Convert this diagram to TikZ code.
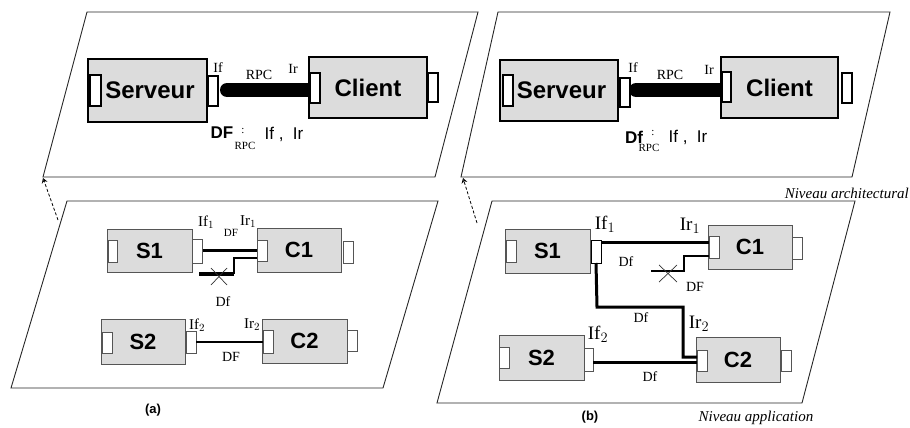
\documentclass[tikz,border=0pt]{standalone}
\usepackage{fontspec}
\setmainfont{Liberation Serif}
\setsansfont{Liberation Sans}
\usetikzlibrary{calc,arrows.meta}
\definecolor{boxgray}{HTML}{DCDCDC}
\definecolor{edgegray}{HTML}{555555}
\tikzset{
  plane/.style={draw=black!85, line width=0.9pt},
  bigbox/.style={draw=black, line width=2.4pt, fill=boxgray, inner sep=0pt, outer sep=0pt,
    font=\sffamily\bfseries\fontsize{24}{24}\selectfont},
  bigport/.style={draw=black, line width=1.8pt, fill=white, inner sep=0pt, outer sep=0pt},
  smallbox/.style={draw=edgegray, line width=1pt, fill=boxgray, inner sep=0pt, outer sep=0pt,
    font=\sffamily\bfseries\fontsize{22}{22}\selectfont},
  smallport/.style={draw=edgegray, line width=1pt, fill=white, inner sep=0pt, outer sep=0pt},
  bar/.style={line width=14pt, line cap=butt},
  barend/.style={fill=black, draw=none},
  link/.style={line width=3pt},
  thinlink/.style={line width=1.6pt},
  cross/.style={line width=0.7pt, draw=black!80},
  lbl/.style={inner sep=0pt, font=\fontsize{14}{14}\selectfont},
  slbl/.style={inner sep=0pt, font=\fontsize{11}{11}\selectfont},
  blbl/.style={inner sep=0pt, font=\fontsize{19}{19}\selectfont},
  dflbl/.style={inner sep=0pt, font=\sffamily\bfseries\fontsize{17}{17}\selectfont},
  iflbl/.style={inner sep=0pt, font=\sffamily\fontsize{17}{17}\selectfont},
  caplbl/.style={inner sep=0pt, font=\sffamily\bfseries\fontsize{13}{13}\selectfont},
  nivlbl/.style={inner sep=0pt, font=\itshape\fontsize{15}{15}\selectfont},
  lvlarrow/.style={densely dashed, line width=0.8pt, ->, >={Stealth[open,length=5pt,width=6pt]}}
}
\begin{document}
\begin{tikzpicture}[x=1pt,y=-1pt]
\useasboundingbox (0,0) rectangle (910,428);
% ---------- planes ----------
\draw[plane] (87,12) -- (478,12) -- (435,177) -- (43,177) -- cycle;
\draw[plane] (498,12) -- (890,12) -- (852,177) -- (461,177) -- cycle;
\draw[plane] (67,201) -- (438,201) -- (383,388) -- (11,388) -- cycle;
\draw[plane] (492,201) -- (855,201) -- (802,403) -- (437,403) -- cycle;
\coordinate (pA) at (43,178);
\coordinate (qA) at (58,220);
\coordinate (pB) at (463,178);
\coordinate (qB) at (477,223);
\draw[lvlarrow] (qA) -- (pA);
\draw[lvlarrow] (qB) -- (pB);

% ---------- top left ----------
\node[bigbox, minimum width=119pt, minimum height=63pt] (svA) at (147.5,90.5) {\hspace*{5pt}Serveur};
\node[bigbox, minimum width=118pt, minimum height=61pt] (clA) at (368,87.5) {Client};
\node[bigport, minimum width=11pt, minimum height=31pt] (svAl) at (95.5,90.5) {};
\node[bigport, minimum width=10pt, minimum height=30pt] (svAr) at (213,91) {};
\node[bigport, minimum width=10pt, minimum height=30pt] (clAl) at (315,88) {};
\node[bigport, minimum width=10pt, minimum height=29pt] (clAr) at (433,87.5) {};
\coordinate (tA) at ($(svAr.east)+(9,-1)$);
\fill[barend] (tA) circle (7pt);
\draw[bar] (tA) -- (tA -| clAl.west);
\node[bigport, minimum width=10pt, minimum height=30pt] at (clAl) {};
\node[lbl] (ifA) at (218,68) {If};
\node[lbl] (rpcA) at (259,75) {RPC};
\node[lbl] (irA) at (293,69) {Ir};
\node[dflbl] (dfA) at (222,133) {DF};
\node[slbl] (dfAc) at (243,131) {:};
\node[slbl] (dfAs) at (245,146) {RPC};
\node[iflbl] (dfAi) at (284,134) {If ,\ \ Ir};

% ---------- top right ----------
\node[bigbox, minimum width=118pt, minimum height=61pt] (svB) at (559,90.5) {\hspace*{5pt}Serveur};
\node[bigbox, minimum width=117pt, minimum height=61pt] (clB) at (779.5,87.5) {Client};
\node[bigport, minimum width=10pt, minimum height=31pt] (svBl) at (508,90.5) {};
\node[bigport, minimum width=10pt, minimum height=29pt] (svBr) at (625,92.5) {};
\node[bigport, minimum width=9pt, minimum height=30pt] (clBl) at (726.5,87) {};
\node[bigport, minimum width=10pt, minimum height=30pt] (clBr) at (847,88) {};
\coordinate (tB) at ($(svBr.east)+(6,-2.5)$);
\fill[barend] (tB) circle (7pt);
\draw[bar] (tB) -- (tB -| clBl.west);
\node[bigport, minimum width=10pt, minimum height=29pt] at (svBr) {};
\node[bigport, minimum width=9pt, minimum height=30pt] at (clBl) {};
\node[lbl] (ifB) at (633,68) {If};
\node[lbl] (rpcB) at (670,75) {RPC};
\node[lbl] (irB) at (709,70) {Ir};
\node[dflbl] (dfB) at (634,137) {Df};
\node[slbl] (dfBc) at (653,133) {:};
\node[slbl] (dfBs) at (649,148) {RPC};
\node[iflbl] (dfBi) at (688,137) {If ,\ \ Ir};
\node[nivlbl, anchor=east] (nivA) at (909,193) {Niveau architectural};

% ---------- bottom left (a) ----------
\node[smallbox, minimum width=85pt, minimum height=43pt] (s1a) at (149.5,250.5) {S1};
\node[smallport, minimum width=9pt, minimum height=22pt] (s1al) at (112.5,251) {};
\node[smallport, minimum width=10pt, minimum height=24pt] (s1ar) at (197,251) {};
\node[smallbox, minimum width=84pt, minimum height=44pt] (c1a) at (299,250) {C1};
\node[smallport, minimum width=10pt, minimum height=21pt] (c1al) at (262,250.5) {};
\node[smallport, minimum width=10pt, minimum height=22pt] (c1ar) at (348,252) {};
\node[smallbox, minimum width=84pt, minimum height=45pt] (s2a) at (143,341.5) {S2};
\node[smallport, minimum width=10pt, minimum height=21pt] (s2al) at (107,342.5) {};
\node[smallport, minimum width=10pt, minimum height=22pt] (s2ar) at (191,342) {};
\node[smallbox, minimum width=85pt, minimum height=44pt] (c2a) at (304.5,341) {C2};
\node[smallport, minimum width=10pt, minimum height=23pt] (c2al) at (268,341.5) {};
\node[smallport, minimum width=10pt, minimum height=21pt] (c2ar) at (352,340.5) {};
\coordinate (a0) at ($(s1ar.east)+(1,-1)$);
\coordinate (a1) at (234,258);
\coordinate (a2) at (234,274);
\coordinate (a3) at (199,274);
\draw[link] (a0) -- (a0 -| c1al.west);
\draw[line width=2.2pt] (a1 -| c1al.west) -- (a1) -- (a2);
\draw[line width=4pt] (a2) -- (a3);
\coordinate (xa) at (219,276.5);
\draw[cross] ($(xa)+(-8,-8.5)$) -- ($(xa)+(8,8.5)$);
\draw[cross] ($(xa)+(-8,8.5)$) -- ($(xa)+(8,-8.5)$);
\draw[thinlink] (s2ar.east) -- (s2ar.east -| c2al.west);
\node[lbl, font=\fontsize{15}{15}\selectfont] (if1a) at (206,222) {If$_1$};
\node[lbl, font=\fontsize{15}{15}\selectfont] (ir1a) at (248,222) {Ir$_1$};
\node[slbl] (dfa1) at (231,233) {DF};
\node[lbl] (dfa2) at (223,302) {Df};
\node[lbl, font=\fontsize{15}{15}\selectfont] (if2a) at (197,325) {If$_2$};
\node[lbl, font=\fontsize{15}{15}\selectfont] (ir2a) at (252,325) {Ir$_2$};
\node[lbl] (dfa3) at (231,357) {DF};
\node[caplbl] (capa) at (153,410) {(a)};

% ---------- bottom right (b) ----------
\node[smallbox, minimum width=85pt, minimum height=44pt] (s1b) at (547.5,251) {S1};
\node[smallport, minimum width=10pt, minimum height=22pt] (s1bl) at (511,251) {};
\node[smallport, minimum width=10pt, minimum height=23pt, draw=black] (s1br) at (596,251.5) {};
\node[smallbox, minimum width=84pt, minimum height=44pt] (c1b) at (750,247) {C1};
\node[smallport, minimum width=10pt, minimum height=22pt] (c1bl) at (714,247) {};
\node[smallport, minimum width=10pt, minimum height=22pt] (c1br) at (797,248) {};
\node[smallbox, minimum width=85pt, minimum height=45pt] (s2b) at (541.5,357.5) {S2};
\node[smallport, minimum width=10pt, minimum height=21pt] (s2bl) at (504,357.5) {};
\node[smallport, minimum width=9pt, minimum height=23pt] (s2br) at (588.5,359.5) {};
\node[smallbox, minimum width=84pt, minimum height=45pt] (c2b) at (738,359.5) {C2};
\node[smallport, minimum width=10pt, minimum height=21pt] (c2bl) at (702,360.5) {};
\node[smallport, minimum width=10pt, minimum height=21pt] (c2br) at (786,360.5) {};
\coordinate (b0) at ($(s1br.east)+(0,-9.5)$);
\coordinate (b1) at (597,307);
\coordinate (b2) at (683,307);
\coordinate (b3) at (683,357);
\coordinate (b7) at ($(s2br.east)+(0,2.5)$);
\draw[link] (b0) -- (b0 -| c1bl.west);
\draw[link] (s1br.south) -- (b1) -- (b2) -- (b3) -- (b3 -| c2bl.west);
\draw[link] (b7) -- (b7 -| c2bl.west);
\coordinate (b4) at (684,256);
\coordinate (b5) at (684,271);
\coordinate (b6) at (651,271);
\draw[line width=2.6pt] (b4 -| c1bl.west) -- (b4) -- (b5) -- (b6);
\coordinate (xb) at (668,273.5);
\draw[cross] ($(xb)+(-9,-8.5)$) -- ($(xb)+(9,8.5)$);
\draw[cross] ($(xb)+(-9,8.5)$) -- ($(xb)+(9,-8.5)$);
\node[blbl] (if1b) at (605,224) {If$_1$};
\node[blbl] (ir1b) at (690,226) {Ir$_1$};
\node[lbl] (dfb1) at (626,262) {Df};
\node[lbl] (dfb2) at (695,287) {DF};
\node[lbl] (dfb3) at (641,318) {Df};
\node[blbl] (ir2b) at (699,324) {Ir$_2$};
\node[blbl] (if2b) at (598,334) {If$_2$};
\node[lbl] (dfb4) at (650,377) {Df};
\node[caplbl] (capb) at (590,417) {(b)};
\node[nivlbl] (nivB) at (756,418) {Niveau application};
\end{tikzpicture}
\end{document}
